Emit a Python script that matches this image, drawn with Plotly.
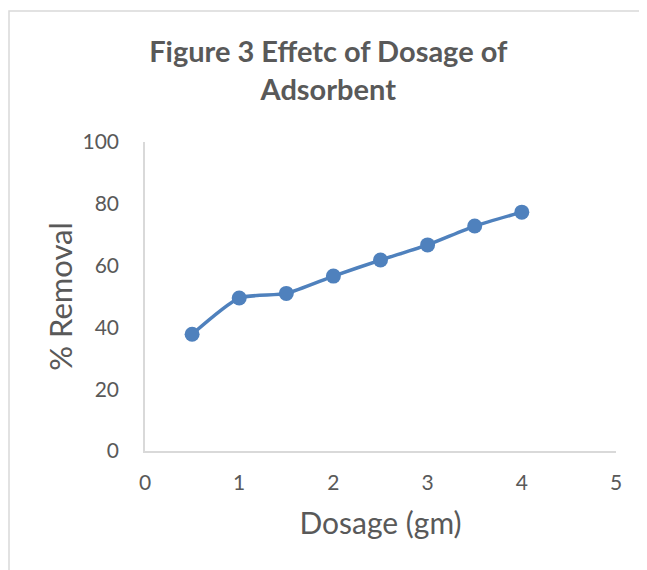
import plotly.graph_objects as go

dosage = [0.5, 1, 1.5, 2, 2.5, 3, 3.5, 4]
removal = [37.8, 49.5, 51.0, 56.6, 61.8, 66.7, 72.8, 77.3]
x_ticks = [0, 1, 2, 3, 4, 5]
y_ticks = [0, 20, 40, 60, 80, 100]

FONT = "Lato, 'Open Sans', sans-serif"
blue = "#4f81bd"
grey = "#595959"

fig = go.Figure()
fig.add_trace(go.Scatter(
    x=dosage, y=removal, mode="lines+markers",
    line=dict(color=blue, width=3.5, shape="spline", smoothing=0.6),
    marker=dict(color=blue, size=15),
    showlegend=False, hoverinfo="x+y",
))

L, R, T, B = 137, 39, 134, 127
pw, ph = 647 - L - R, 570 - T - B

fig.update_layout(
    width=647, height=570,
    margin=dict(l=L, r=R, t=T, b=B, autoexpand=False),
    paper_bgcolor="white", plot_bgcolor="white",
    font=dict(family=FONT, color=grey),
    title=dict(
        text="<b>Figure 3 Effetc of Dosage of<br>Adsorbent</b>",
        x=0.495, xanchor="center", y=0.905, yanchor="top",
        font=dict(size=29, color=grey, family=FONT),
    ),
    xaxis=dict(
        range=[0, 5], tickvals=x_ticks, showgrid=False, zeroline=False,
        showline=True, linecolor="#d9d9d9", linewidth=1.5,
        ticks="", tickfont=dict(size=21, color=grey),
        ticklabelstandoff=12,
        title=dict(text="Dosage (gm)", font=dict(size=30, color=grey), standoff=20),
    ),
    yaxis=dict(
        range=[0, 100], tickvals=y_ticks, showgrid=False, zeroline=False,
        showline=True, linecolor="#d9d9d9", linewidth=1.5,
        ticks="", tickfont=dict(size=21, color=grey),
        ticklabelstandoff=20,
        title=dict(text="% Removal", font=dict(size=31, color=grey), standoff=1),
    ),
    shapes=[dict(
        type="rect", xref="paper", yref="paper",
        x0=(1 - L) / pw, x1=(660 - L) / pw,
        y0=(570 - B - 590) / ph, y1=(570 - B - 3) / ph,
        line=dict(color="#d9d9d9", width=1.5), fillcolor="rgba(0,0,0,0)", layer="below",
    )],
)

fig.write_html("out.html")
